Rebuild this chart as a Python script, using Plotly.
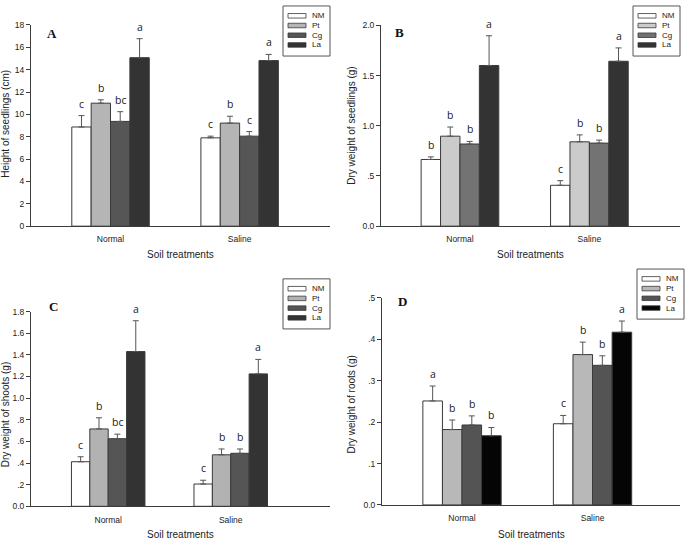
import plotly.graph_objects as go

# ---------------- data ----------------
categories = ["Normal", "Saline"]
series = ["NM", "Pt", "Cg", "La"]

# Panel A: height of seedlings (cm); rows follow `series`, columns follow `categories`
height_mean = [[8.87, 7.90], [11.00, 9.22], [9.37, 8.05], [15.07, 14.81]]
height_err = [[1.02, 0.15], [0.30, 0.61], [0.87, 0.41], [1.70, 0.55]]
height_letters = [["c", "c"], ["b", "b"], ["bc", "c"], ["a", "a"]]
height_ticks = [0, 2, 4, 6, 8, 10, 12, 14, 16, 18]
height_ticktext = ["0", "2", "4", "6", "8", "10", "12", "14", "16", "18"]

# Panel B: dry weight of seedlings (g)
seedw_mean = [[0.664, 0.407], [0.896, 0.840], [0.818, 0.827], [1.600, 1.642]]
seedw_err = [[0.026, 0.046], [0.091, 0.069], [0.026, 0.030], [0.296, 0.133]]
seedw_letters = [["b", "c"], ["b", "b"], ["b", "b"], ["a", "a"]]
seedw_ticks = [0.0, 0.5, 1.0, 1.5, 2.0]
seedw_ticktext = ["0.0", ".5", "1.0", "1.5", "2.0"]

# Panel C: dry weight of shoots (g)
shoot_mean = [[0.412, 0.206], [0.715, 0.476], [0.625, 0.490], [1.430, 1.224]]
shoot_err = [[0.046, 0.035], [0.103, 0.054], [0.042, 0.040], [0.285, 0.134]]
shoot_letters = [["c", "c"], ["b", "b"], ["bc", "b"], ["a", "a"]]
shoot_ticks = [0.0, 0.2, 0.4, 0.6, 0.8, 1.0, 1.2, 1.4, 1.6, 1.8]
shoot_ticktext = ["0.0", ".2", ".4", ".6", ".8", "1.0", "1.2", "1.4", "1.6", "1.8"]

# Panel D: dry weight of roots (g)
root_mean = [[0.251, 0.196], [0.182, 0.363], [0.193, 0.337], [0.167, 0.417]]
root_err = [[0.036, 0.020], [0.023, 0.030], [0.022, 0.023], [0.020, 0.027]]
root_letters = [["a", "c"], ["b", "b"], ["b", "b"], ["b", "a"]]
root_ticks = [0.0, 0.1, 0.2, 0.3, 0.4, 0.5]
root_ticktext = ["0.0", ".1", ".2", ".3", ".4", ".5"]

# ---------------- styling ----------------
W, H = 685, 544
FONT = "Liberation Sans, Arial, sans-serif"
AXCOL = "#3c3c3c"
EDGE = "#3a3a3a"


def px(x):
    return x / W


def py(y):
    return 1 - y / H


panels = [
    dict(label="A", mean=height_mean, err=height_err, letters=height_letters,
         ticks=height_ticks, ticktext=height_ticktext, ymax=18,
         ytitle="Height of seedlings (cm)",
         colors=["#ffffff", "#b5b5b5", "#565656", "#333333"],
         xpx=(31, 330), ypx=(20.3, 225.3), xr=(-0.616, 1.70),
         ytitle_pos=(6, 121), xtitle_y=254, lab_pos=(45, 29), leg=(283, 1)),
    dict(label="B", mean=seedw_mean, err=seedw_err, letters=seedw_letters,
         ticks=seedw_ticks, ticktext=seedw_ticktext, ymax=2.0,
         ytitle="Dry weight of seedlings (g)",
         colors=["#ffffff", "#cbcbcb", "#737373", "#333333"],
         xpx=(381, 680), ypx=(20.7, 225.3), xr=(-0.61, 1.70),
         ytitle_pos=(352, 123), xtitle_y=254, lab_pos=(393, 28), leg=(633, 1)),
    dict(label="C", mean=shoot_mean, err=shoot_err, letters=shoot_letters,
         ticks=shoot_ticks, ticktext=shoot_ticktext, ymax=1.8,
         ytitle="Dry weight of shoots (g)",
         colors=["#ffffff", "#b2b2b2", "#555555", "#333333"],
         xpx=(31, 330), ypx=(312.3, 510.7), xr=(-0.63, 1.81),
         ytitle_pos=(5, 417), xtitle_y=539, lab_pos=(47, 307), leg=(283, 279)),
    dict(label="D", mean=root_mean, err=root_err, letters=root_letters,
         ticks=root_ticks, ticktext=root_ticktext, ymax=0.5,
         ytitle="Dry weight of roots (g)",
         colors=["#ffffff", "#b8b8b8", "#545454", "#050505"],
         xpx=(382, 680), ypx=(298.3, 509.3), xr=(-0.613, 1.67),
         ytitle_pos=(352, 407), xtitle_y=539, lab_pos=(396, 302), leg=(637, 269)),
]

BAR_W = 0.15
fig = go.Figure()
shapes = []
annotations = []
layout = {}

for k, p in enumerate(panels):
    sfx = "" if k == 0 else str(k + 1)
    xa, ya = "x" + sfx, "y" + sfx
    cat_pos = list(range(len(categories)))
    for i, name in enumerate(series):
        xs = [c + (i - (len(series) - 1) / 2) * BAR_W for c in cat_pos]
        fig.add_trace(go.Bar(
            x=xs, y=p["mean"][i], width=BAR_W, name=name, xaxis=xa, yaxis=ya,
            marker=dict(color=p["colors"][i], line=dict(color=EDGE, width=1)),
            error_y=dict(type="data", symmetric=False, array=p["err"][i],
                         arrayminus=[0] * len(categories), color="#555555",
                         thickness=1, width=3),
            showlegend=False, hoverinfo="skip"))
        # significance letters above the error bars (placed through the data axes)
        for xv, m, e, letter in zip(xs, p["mean"][i], p["err"][i], p["letters"][i]):
            annotations.append(dict(
                x=xv, y=m + e, xref=xa, yref=ya, text=letter, showarrow=False,
                xanchor="center", yanchor="bottom", yshift=3,
                font=dict(family="Open Sans, Liberation Sans, sans-serif", size=10.5,
                          color="#1a1a1a")))

    layout["xaxis" + sfx] = dict(
        domain=[px(p["xpx"][0]), px(p["xpx"][1])], anchor=ya, range=list(p["xr"]),
        tickmode="array", tickvals=cat_pos, ticktext=categories,
        showline=True, linecolor=AXCOL, linewidth=1, ticks="", showgrid=False,
        zeroline=False, tickfont=dict(family=FONT, size=8.5, color="#222"),
        ticklabelstandoff=5)
    layout["yaxis" + sfx] = dict(
        domain=[py(p["ypx"][1]), py(p["ypx"][0])], anchor=xa, range=[0, p["ymax"]],
        tickmode="array", tickvals=p["ticks"], ticktext=p["ticktext"],
        showline=True, linecolor=AXCOL, linewidth=1, ticks="outside", ticklen=4,
        tickcolor=AXCOL, showgrid=False, zeroline=False,
        tickfont=dict(family=FONT, size=8.5, color="#222"))

    # axis titles
    annotations.append(dict(
        x=px(p["ytitle_pos"][0]), y=py(p["ytitle_pos"][1]), xref="paper", yref="paper",
        text=p["ytitle"], textangle=-90, showarrow=False,
        xanchor="center", yanchor="middle",
        font=dict(family=FONT, size=10, color="#222")))
    annotations.append(dict(
        x=(px(p["xpx"][0]) + px(p["xpx"][1])) / 2, y=py(p["xtitle_y"]),
        xref="paper", yref="paper", text="Soil treatments", showarrow=False,
        xanchor="center", yanchor="middle",
        font=dict(family=FONT, size=10, color="#222")))
    # panel label
    annotations.append(dict(
        x=px(p["lab_pos"][0]), y=py(p["lab_pos"][1]), xref="paper", yref="paper",
        text="<b>" + p["label"] + "</b>", showarrow=False, xanchor="left",
        yanchor="middle",
        font=dict(family="Liberation Serif, Times New Roman, serif", size=13, color="#111")))

    # legend box
    lx, ly = p["leg"]
    shapes.append(dict(type="rect", xref="paper", yref="paper",
                       x0=px(lx), x1=px(lx + 47), y0=py(ly), y1=py(ly + 51),
                       line=dict(color="#555555", width=1), fillcolor="white"))
    for i, name in enumerate(series):
        ry = ly + 10 + i * 9.9
        shapes.append(dict(type="rect", xref="paper", yref="paper",
                           x0=px(lx + 5), x1=px(lx + 23), y0=py(ry - 2.3), y1=py(ry + 2.3),
                           line=dict(color=EDGE, width=0.8), fillcolor=p["colors"][i]))
        annotations.append(dict(
            x=px(lx + 27), y=py(ry), xref="paper", yref="paper", text=name,
            showarrow=False, xanchor="left", yanchor="middle",
            font=dict(family=FONT, size=8, color="#222")))

fig.update_layout(
    width=W, height=H, margin=dict(l=0, r=0, t=0, b=0),
    paper_bgcolor="white", plot_bgcolor="white", barmode="overlay",
    shapes=shapes, annotations=annotations, **layout)

fig.write_html(
    "out.html",
    config={"displayModeBar": False},
    post_script="document.body.style.margin='0px';document.body.style.overflow='hidden';")
